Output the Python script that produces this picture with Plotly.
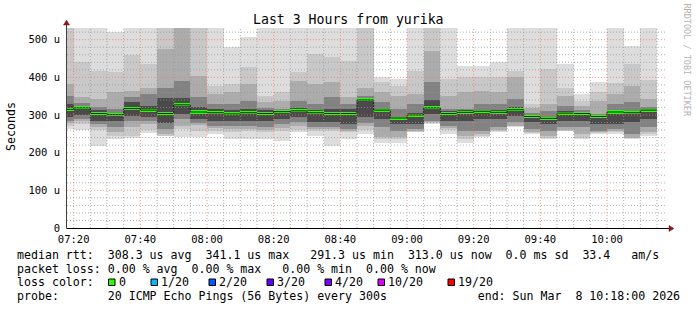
import plotly.graph_objects as go
import pandas as pd

DAY = "2026-03-08 "
times = ["07:15", "07:20", "07:25", "07:30", "07:35", "07:40", "07:45", "07:50", "07:55",
         "08:00", "08:05", "08:10", "08:15", "08:20", "08:25", "08:30", "08:35", "08:40",
         "08:45", "08:50", "08:55", "09:00", "09:05", "09:10", "09:15", "09:20", "09:25",
         "09:30", "09:35", "09:40", "09:45", "09:50", "09:55", "10:00", "10:05", "10:10"]

# smoke bands (microseconds): outermost (hi1/lo1) to innermost (hi5/lo5)
hi1 = [540, 540, 540, 520, 540, 540, 540, 540, 540, 540, 480, 506, 540, 540, 540, 540, 540, 540,
       540, 400, 396, 540, 540, 540, 431, 431, 440, 540, 540, 540, 435, 356, 387, 540, 484, 540]
hi2 = [540, 440, 418, 413, 460, 435, 540, 540, 540, 378, 382, 427, 351, 360, 413, 462, 453, 444,
       540, 387, 378, 418, 540, 396, 400, 400, 400, 418, 329, 422, 373, 338, 360, 384, 435, 393]
hi3 = [382, 349, 342, 360, 365, 373, 475, 540, 404, 356, 360, 382, 334, 338, 391, 382, 387, 347,
       373, 360, 351, 356, 471, 351, 360, 365, 360, 400, 318, 329, 351, 325, 338, 356, 378, 342]
hi4 = [350, 333, 320, 316, 349, 356, 373, 390, 349, 329, 329, 338, 318, 316, 338, 329, 347, 329,
       351, 334, 316, 329, 387, 316, 316, 329, 329, 342, 305, 310, 325, 312, 303, 329, 334, 320]
hi5 = [330, 322, 312, 305, 334, 325, 345, 345, 322, 316, 312, 316, 312, 312, 318, 312, 316, 315,
       343, 316, 296, 305, 340, 310, 312, 313, 312, 320, 300, 295, 310, 306, 299, 312, 310, 316]
median = [315, 319, 304, 301, 317, 313, 304, 327, 308, 306, 303, 306, 304, 309, 311, 306, 304, 304,
          340, 313, 292, 300, 319, 304, 307, 310, 307, 314, 296, 291, 305, 304, 296, 308, 306, 313]
lo5 = [295, 301, 285, 285, 298, 294, 280, 303, 289, 285, 285, 285, 285, 289, 294, 281, 281, 276,
       294, 289, 276, 276, 303, 285, 285, 289, 289, 298, 281, 276, 285, 285, 276, 276, 281, 289]
lo4 = [285, 290, 276, 267, 285, 284, 262, 289, 280, 272, 272, 272, 267, 276, 281, 267, 267, 263,
       280, 267, 258, 263, 285, 272, 258, 258, 267, 281, 263, 258, 267, 267, 258, 263, 250, 267]
lo3 = [278, 285, 268, 254, 267, 276, 250, 272, 274, 265, 263, 264, 260, 265, 270, 262, 262, 258,
       272, 241, 241, 258, 281, 265, 245, 250, 260, 272, 255, 245, 260, 250, 254, 258, 240, 255]
lo2 = [270, 276, 260, 245, 245, 260, 245, 263, 258, 258, 254, 258, 254, 258, 260, 258, 258, 254,
       260, 236, 235, 256, 278, 260, 235, 245, 258, 270, 252, 240, 258, 240, 252, 255, 238, 250]
lo1 = [262, 260, 219, 236, 240, 251, 243, 241, 242, 250, 236, 236, 236, 230, 254, 245, 219, 236,
       250, 227, 227, 254, 277, 250, 227, 241, 254, 267, 250, 236, 257, 236, 250, 250, 236, 245]

y_ticks = [0, 100, 200, 300, 400, 500]
y_tick_text = ["0", "100 u", "200 u", "300 u", "400 u", "500 u"]

title_text = "Last 3 Hours from yurika"
legend_lines = [
    "median rtt:  308.3 us avg  341.1 us max   291.3 us min  313.0 us now  0.0 ms sd  33.4   am/s",
    "packet loss: 0.00 % avg  0.00 % max   0.00 % min  0.00 % now",
    "loss color:",
    "probe:       20 ICMP Echo Pings (56 Bytes) every 300s             end: Sun Mar  8 10:18:00 2026",
]
loss_labels = ["0", "1/20", "2/20", "3/20", "4/20", "10/20", "19/20"]
loss_colors = ["#26ff00", "#00b8ff", "#0059ff", "#5e00ff", "#7e00ff", "#dd00ff", "#ff0000"]

# ---------------- layout geometry (pixels) ----------------
W_PX, H_PX = 697, 310
L, R, T, B = 67, 30, 28, 82
PW, PH = W_PX - L - R, H_PX - T - B
Y_TOP = 531
MONO = "DejaVu Sans Mono"


def px_x(x):
    return (x - L) / PW


def px_y(y):
    return (H_PX - B - y) / PH


start = pd.to_datetime([DAY + t for t in times])
step = pd.Timedelta(minutes=5)
centers = start + step / 2
x0 = pd.Timestamp(DAY + "07:18")
x1 = pd.Timestamp(DAY + "10:18")

fig = go.Figure()
layers = [(lo1, hi1, "#dddddd"), (lo2, hi2, "#c8c8c8"), (lo3, hi3, "#acacac"),
          (lo4, hi4, "#828282"), (lo5, hi5, "#4a4a4a")]
for lo, hi, col in layers:
    fig.add_trace(go.Bar(x=centers, base=lo, y=[h - l for h, l in zip(hi, lo)],
                         width=300000, marker=dict(color=col, line=dict(width=0)),
                         hoverinfo="skip", showlegend=False))

# dark median step line
fig.add_trace(go.Scatter(x=list(start) + [start[-1] + step], y=median + [median[-1]],
                         mode="lines", line=dict(color="#202020", width=1, shape="hv"),
                         hoverinfo="skip", showlegend=False))
# green median segments
fig.add_trace(go.Bar(x=centers, base=[m - 4 for m in median], y=[8] * len(median),
                     width=300000, marker=dict(color=loss_colors[0], line=dict(width=0)),
                     hoverinfo="skip", showlegend=False))

shapes = []
# grid (drawn above the smoke like rrdtool)
for v in range(20, Y_TOP, 20):
    major = v % 100 == 0
    shapes.append(dict(type="line", xref="x", yref="y", x0=x0, x1=x1, y0=v, y1=v, layer="above",
                       line=dict(color="rgba(255,110,110,0.75)" if major else "rgba(150,150,150,0.75)",
                                 width=1, dash="1px,2px")))
t = pd.Timestamp(DAY + "07:20")
while t <= pd.Timestamp(DAY + "10:15"):
    major = t.minute % 20 == 0
    shapes.append(dict(type="line", xref="x", yref="y", x0=t, x1=t, y0=0, y1=Y_TOP, layer="above",
                       line=dict(color="rgba(255,110,110,0.75)" if major else "rgba(150,150,150,0.75)",
                                 width=1, dash="1px,2px")))
    t += step

# axes with arrows
shapes.append(dict(type="line", xref="paper", yref="paper", x0=px_x(66.5), x1=px_x(670),
                   y0=px_y(228.5), y1=px_y(228.5), line=dict(color="black", width=1), layer="above"))
shapes.append(dict(type="line", xref="paper", yref="paper", x0=px_x(66.5), x1=px_x(66.5),
                   y0=px_y(228.5), y1=px_y(23), line=dict(color="#404040", width=1), layer="above"))
ARROW = "#8b1a1a"
shapes.append(dict(type="path", xref="paper", yref="paper", layer="above",
                   path=f"M {px_x(669)} {px_y(225.5)} L {px_x(674)} {px_y(228.5)} L {px_x(669)} {px_y(231.5)} Z",
                   fillcolor=ARROW, line=dict(color=ARROW, width=0.5)))
shapes.append(dict(type="path", xref="paper", yref="paper", layer="above",
                   path=f"M {px_x(63.5)} {px_y(25)} L {px_x(66.5)} {px_y(20)} L {px_x(69.5)} {px_y(25)} Z",
                   fillcolor=ARROW, line=dict(color=ARROW, width=0.5)))

annotations = []
annotations.append(dict(text=title_text, xref="paper", yref="paper", x=px_x(348.5), y=px_y(19.5),
                        xanchor="center", yanchor="middle", showarrow=False,
                        font=dict(family=MONO, size=13.2, color="black")))
annotations.append(dict(text="Seconds", xref="paper", yref="paper", x=px_x(11), y=px_y(127),
                        xanchor="center", yanchor="middle", textangle=-90, showarrow=False,
                        font=dict(family=MONO, size=11.6, color="black")))
annotations.append(dict(text="RRDTOOL / TOBI OETIKER", xref="paper", yref="paper", x=px_x(686.5),
                        y=px_y(60), xanchor="center", yanchor="middle", textangle=90, showarrow=False,
                        font=dict(family=MONO, size=8.5, color="#b4b4b4")))
line_y = [255, 268.5, 282.3, 296.3]
for s, yy in zip(legend_lines, line_y):
    annotations.append(dict(text=s.replace(" ", "\u00a0"), xref="paper", yref="paper",
                            x=px_x(16), y=px_y(yy), xanchor="left", yanchor="middle",
                            showarrow=False, borderpad=0,
                            font=dict(family=MONO, size=11.6, color="black")))
label_x = [117.5, 160, 218, 276, 334, 387, 457]
for lab, col, lx in zip(loss_labels, loss_colors, label_x):
    shapes.append(dict(type="rect", xref="paper", yref="paper", x0=px_x(lx - 9), x1=px_x(lx - 2.5),
                       y0=px_y(285.5), y1=px_y(279), fillcolor=col, line=dict(color="black", width=1)))
    annotations.append(dict(text=lab, xref="paper", yref="paper", x=px_x(lx), y=px_y(282.3),
                            xanchor="left", yanchor="middle", showarrow=False, borderpad=0,
                            font=dict(family=MONO, size=11.6, color="black")))

fig.update_layout(
    width=W_PX, height=H_PX, margin=dict(l=L, r=R, t=T, b=B, pad=0),
    paper_bgcolor="white", plot_bgcolor="white", barmode="overlay", bargap=0,
    showlegend=False, shapes=shapes, annotations=annotations,
    xaxis=dict(range=[x0, x1], showgrid=False, zeroline=False, showline=False,
               tickvals=pd.date_range(DAY + "07:20", DAY + "10:00", freq="20min"),
               tickformat="%H:%M", ticks="", ticklabelstandoff=3,
               tickfont=dict(family=MONO, size=10.5, color="black"), fixedrange=True),
    yaxis=dict(range=[0, Y_TOP], showgrid=False, zeroline=False, showline=False,
               tickvals=y_ticks, ticktext=y_tick_text, ticks="", ticklabelstandoff=6,
               tickfont=dict(family=MONO, size=10.5, color="black"), fixedrange=True),
)

fig.write_html("out.html")
